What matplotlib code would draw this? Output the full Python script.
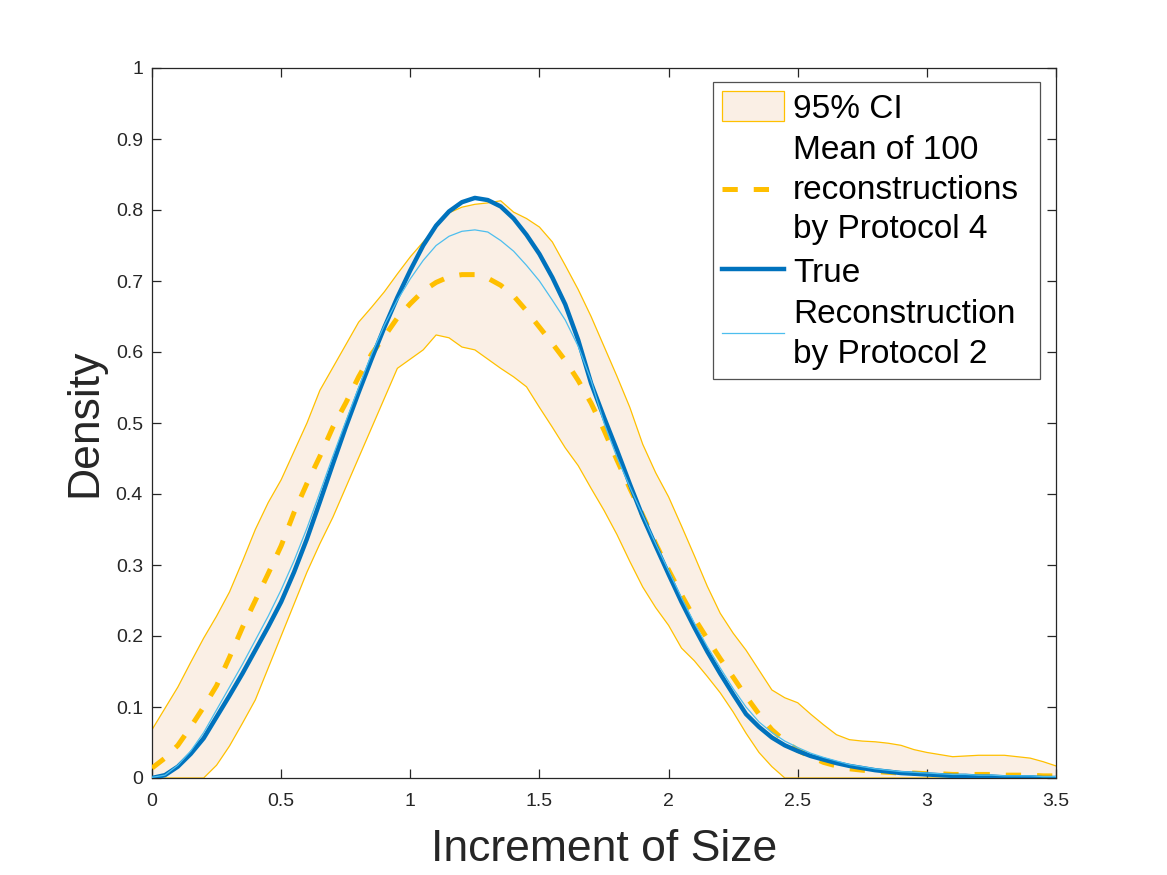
import numpy as np
import matplotlib
matplotlib.use("Agg")
import matplotlib.pyplot as plt
from matplotlib.lines import Line2D
from matplotlib.patches import Patch
from matplotlib.offsetbox import TextArea

# ---------------- data ----------------
x = [0.00, 0.05, 0.10, 0.15, 0.20, 0.25, 0.30, 0.35, 0.40, 0.45,
     0.50, 0.55, 0.60, 0.65, 0.70, 0.75, 0.80, 0.85, 0.90, 0.95,
     1.00, 1.05, 1.10, 1.15, 1.20, 1.25, 1.30, 1.35, 1.40, 1.45,
     1.50, 1.55, 1.60, 1.65, 1.70, 1.75, 1.80, 1.85, 1.90, 1.95,
     2.00, 2.05, 2.10, 2.15, 2.20, 2.25, 2.30, 2.35, 2.40, 2.45,
     2.50, 2.55, 2.60, 2.65, 2.70, 2.75, 2.80, 2.85, 2.90, 2.95,
     3.00, 3.05, 3.10, 3.15, 3.20, 3.25, 3.30, 3.35, 3.40, 3.45,
     3.50]

true_density = [0.000, 0.004, 0.016, 0.034, 0.056, 0.086, 0.116, 0.147, 0.180, 0.213,
                0.248, 0.290, 0.337, 0.389, 0.442, 0.494, 0.543, 0.590, 0.635, 0.677,
                0.715, 0.750, 0.778, 0.798, 0.811, 0.817, 0.814, 0.805, 0.788, 0.765,
                0.738, 0.705, 0.667, 0.617, 0.556, 0.508, 0.462, 0.414, 0.368, 0.327,
                0.287, 0.248, 0.212, 0.178, 0.147, 0.118, 0.090, 0.072, 0.057, 0.046,
                0.038, 0.031, 0.026, 0.021, 0.017, 0.014, 0.011, 0.009, 0.007, 0.006,
                0.005, 0.004, 0.003, 0.003, 0.002, 0.002, 0.001, 0.001, 0.001, 0.000,
                0.000]

protocol2 = [0.001, 0.004, 0.018, 0.038, 0.064, 0.096, 0.128, 0.160, 0.194, 0.228,
             0.265, 0.306, 0.352, 0.402, 0.453, 0.502, 0.550, 0.597, 0.638, 0.673,
             0.703, 0.729, 0.750, 0.763, 0.770, 0.772, 0.769, 0.757, 0.742, 0.722,
             0.700, 0.673, 0.645, 0.608, 0.560, 0.500, 0.452, 0.410, 0.370, 0.330,
             0.292, 0.254, 0.218, 0.185, 0.155, 0.126, 0.100, 0.079, 0.064, 0.052,
             0.043, 0.035, 0.029, 0.024, 0.019, 0.016, 0.013, 0.011, 0.009, 0.008,
             0.007, 0.006, 0.005, 0.005, 0.004, 0.004, 0.003, 0.003, 0.003, 0.002,
             0.002]

mean_protocol4 = [0.014, 0.028, 0.046, 0.072, 0.100, 0.130, 0.170, 0.212, 0.250, 0.288,
                  0.327, 0.374, 0.415, 0.453, 0.494, 0.528, 0.565, 0.597, 0.622, 0.648,
                  0.668, 0.686, 0.698, 0.706, 0.709, 0.709, 0.704, 0.694, 0.679, 0.658,
                  0.635, 0.612, 0.588, 0.560, 0.528, 0.490, 0.448, 0.408, 0.370, 0.330,
                  0.293, 0.258, 0.225, 0.196, 0.168, 0.142, 0.115, 0.090, 0.068, 0.052,
                  0.039, 0.030, 0.022, 0.017, 0.013, 0.011, 0.009, 0.008, 0.007, 0.007,
                  0.006, 0.006, 0.005, 0.005, 0.005, 0.005, 0.004, 0.004, 0.004, 0.003,
                  0.003]

ci_upper = [0.068, 0.098, 0.128, 0.163, 0.197, 0.228, 0.262, 0.305, 0.350, 0.388,
            0.420, 0.460, 0.500, 0.546, 0.578, 0.610, 0.642, 0.663, 0.685, 0.710,
            0.734, 0.755, 0.776, 0.796, 0.804, 0.808, 0.810, 0.813, 0.797, 0.788,
            0.776, 0.755, 0.722, 0.688, 0.650, 0.608, 0.566, 0.522, 0.470, 0.430,
            0.396, 0.355, 0.313, 0.270, 0.232, 0.204, 0.180, 0.152, 0.124, 0.113,
            0.106, 0.090, 0.075, 0.061, 0.054, 0.052, 0.051, 0.049, 0.046, 0.040,
            0.036, 0.033, 0.030, 0.031, 0.032, 0.032, 0.032, 0.030, 0.028, 0.023,
            0.017]

ci_lower = [0.000, 0.000, 0.000, 0.000, 0.000, 0.018, 0.045, 0.077, 0.110, 0.155,
            0.200, 0.245, 0.290, 0.330, 0.367, 0.409, 0.451, 0.493, 0.535, 0.577,
            0.590, 0.603, 0.624, 0.620, 0.607, 0.603, 0.590, 0.577, 0.565, 0.551,
            0.522, 0.494, 0.465, 0.440, 0.408, 0.377, 0.343, 0.305, 0.269, 0.240,
            0.215, 0.183, 0.165, 0.143, 0.120, 0.093, 0.063, 0.036, 0.016, 0.000,
            0.000, 0.000, 0.000, 0.000, 0.000, 0.000, 0.000, 0.000, 0.000, 0.000,
            0.000, 0.000, 0.000, 0.000, 0.000, 0.000, 0.000, 0.000, 0.000, 0.000,
            0.000]

xticks = [0, 0.5, 1, 1.5, 2, 2.5, 3, 3.5]
xtick_labels = ["0", "0.5", "1", "1.5", "2", "2.5", "3", "3.5"]
yticks = [0, 0.1, 0.2, 0.3, 0.4, 0.5, 0.6, 0.7, 0.8, 0.9, 1]
ytick_labels = ["0", "0.1", "0.2", "0.3", "0.4", "0.5", "0.6", "0.7", "0.8", "0.9", "1"]

legend_labels = ["95% CI",
                 "Mean of 100\nreconstructions\nby Protocol 4",
                 "True",
                 "Reconstruction\nby Protocol 2"]

# ---------------- style ----------------
plt.rcParams['font.family'] = ['Liberation Sans', 'DejaVu Sans']
plt.rcParams['lines.scale_dashes'] = False
axcol = (0.15, 0.15, 0.15)
c_true = '#0072BD'
c_p2 = '#4DBEEE'
c_mean = '#FFBF00'
c_fill = '#FAEFE5'
c_edge = '#FFC000'
dash_pat = (11, 11.5)

fig = plt.figure(figsize=(11.67, 8.75), dpi=100)
ax = fig.add_axes([152 / 1167, 1 - 778 / 875, (1056 - 152) / 1167, (778 - 68) / 875])

ax.fill_between(x, ci_lower, ci_upper, facecolor=c_fill, edgecolor='none', zorder=1)
ax.plot(x, ci_upper, color=c_edge, lw=0.9, zorder=2)
ax.plot(x, ci_lower, color=c_edge, lw=0.9, zorder=2)
ax.plot(x, mean_protocol4, color=c_mean, lw=3.6, dashes=dash_pat, zorder=3)
ax.plot(x, true_density, color=c_true, lw=3.2, zorder=4, solid_capstyle='butt')
ax.plot(x, protocol2, color=c_p2, lw=0.9, zorder=5)

ax.set_xlim(0, 3.5)
ax.set_ylim(0, 1)
ax.set_xticks(xticks)
ax.set_xticklabels(xtick_labels)
ax.set_yticks(yticks)
ax.set_yticklabels(ytick_labels)
ax.tick_params(direction='in', length=6.5, width=0.9, colors=axcol,
               labelsize=14, top=True, right=True)
ax.tick_params(axis='x', pad=10.5)
ax.tick_params(axis='y', pad=6.5)
for s in ax.spines.values():
    s.set_color(axcol)
    s.set_linewidth(0.9)

ax.set_xlabel("Increment of Size", fontsize=32, color=axcol, va='center')
ax.xaxis.set_label_coords(0.5, -0.101)
ax.set_ylabel("Density", fontsize=32, color=axcol, va='center')
ax.yaxis.set_label_coords(-0.074, 0.5)

handles = [
    Patch(facecolor=c_fill, edgecolor=c_edge, linewidth=0.9),
    Line2D([], [], color=c_mean, lw=3.6, dashes=dash_pat),
    Line2D([], [], color=c_true, lw=3.2),
    Line2D([], [], color=c_p2, lw=0.9),
]
leg_x0 = (713 - 152) / 904
leg_w = (1040 - 713) / 904
leg_top = (778 - 82) / 710
leg = ax.legend(handles, legend_labels, loc='upper left',
                bbox_to_anchor=(leg_x0, leg_top - 0.5, leg_w, 0.5),
                mode='expand', borderaxespad=0,
                fontsize=24, frameon=True, fancybox=False,
                handlelength=1.85, handleheight=1.0, handletextpad=0.27,
                labelspacing=0.3, borderpad=0.28)
leg.get_frame().set_edgecolor(axcol)
leg.get_frame().set_linewidth(0.9)
for t in leg.get_texts():
    t.set_linespacing(1.37)
for ta in leg.findobj(TextArea):
    ta.set_multilinebaseline(True)

fig.savefig("out.png", dpi=100)
